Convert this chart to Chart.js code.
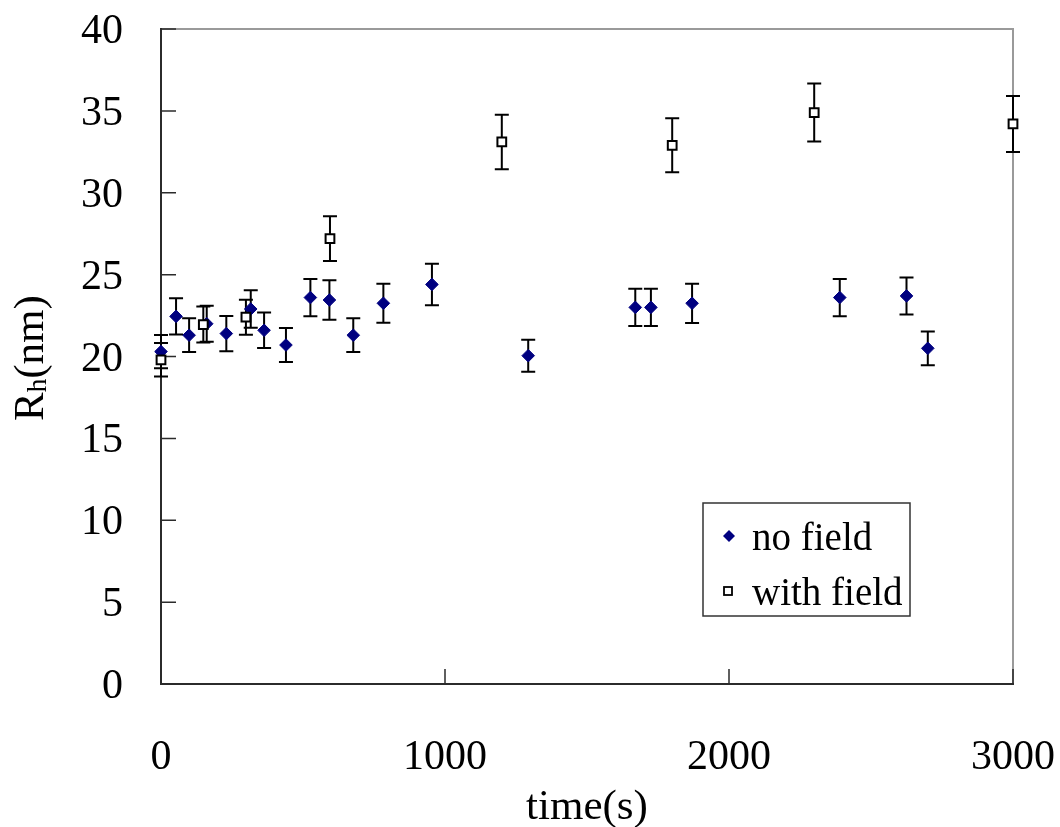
<!DOCTYPE html>
<html>
<head>
<meta charset="utf-8">
<script src="https://cdn.jsdelivr.net/npm/chart.js@4/dist/chart.umd.min.js"></script>
<style>
  html, body { margin: 0; padding: 0; background: #fff; }
  #c { display: block; }
</style>
</head>
<body>
<canvas id="c" width="1060" height="827"></canvas>
<script>
// data
const noFieldTime = [0, 53, 99, 161, 230, 316, 363, 440, 526, 593, 677, 783, 954, 1293, 1670, 1725, 1870, 2390, 2625, 2700];
const noFieldRh   = [20.3, 22.45, 21.3, 22.0, 21.4, 22.9, 21.6, 20.7, 23.6, 23.45, 21.3, 23.25, 24.4, 20.05, 23.0, 23.0, 23.25, 23.6, 23.7, 20.5];
const noFieldErr  = [1.02, 1.1, 1.03, 1.1, 1.08, 1.14, 1.08, 1.04, 1.14, 1.2, 1.03, 1.19, 1.27, 0.98, 1.14, 1.14, 1.2, 1.14, 1.13, 1.03];

const withFieldTime = [0, 149, 299, 595, 1200, 1800, 2300, 3000];
const withFieldRh   = [19.8, 21.95, 22.4, 27.2, 33.1, 32.9, 34.9, 34.2];
const withFieldErr  = [1.02, 1.1, 1.07, 1.37, 1.66, 1.65, 1.77, 1.71];

const xTicks = [0, 1000, 2000, 3000];
const yTicks = [0, 5, 10, 15, 20, 25, 30, 35, 40];

const FONT = "'Liberation Serif', 'Times New Roman', serif";

function toPoints(xs, ys) {
  return xs.map((x, i) => ({ x: x, y: ys[i] }));
}

// frame, inward ticks and error bars go under the markers
const underlay = {
  id: "underlay",
  beforeDatasetsDraw(chart) {
    const { ctx, chartArea: a, scales } = chart;
    const xs = scales.x, ys = scales.y;
    ctx.save();
    ctx.lineCap = "butt";

    // top and right border (grey)
    ctx.strokeStyle = "#9a9a9a";
    ctx.lineWidth = 2;
    ctx.beginPath();
    ctx.moveTo(a.left, a.top);
    ctx.lineTo(a.right, a.top);
    ctx.lineTo(a.right, a.bottom);
    ctx.stroke();

    // left and bottom axis (dark)
    ctx.strokeStyle = "#2b2b2b";
    ctx.beginPath();
    ctx.moveTo(a.left, a.top - 1);
    ctx.lineTo(a.left, a.bottom);
    ctx.lineTo(a.right + 1, a.bottom);
    ctx.stroke();

    // inward tick marks
    ctx.lineWidth = 1.5;
    ctx.beginPath();
    yTicks.forEach(v => {
      const py = ys.getPixelForValue(v);
      ctx.moveTo(a.left, py);
      ctx.lineTo(a.left + 15, py);
    });
    xTicks.forEach(v => {
      const px = xs.getPixelForValue(v);
      ctx.moveTo(px, a.bottom);
      ctx.lineTo(px, a.bottom - 15);
    });
    ctx.stroke();

    // error bars
    const errs = [noFieldErr, withFieldErr];
    ctx.strokeStyle = "#000";
    ctx.lineWidth = 2;
    chart.data.datasets.forEach((ds, di) => {
      ds.data.forEach((p, i) => {
        const e = errs[di][i];
        const px = xs.getPixelForValue(p.x);
        const top = ys.getPixelForValue(p.y + e);
        const bot = ys.getPixelForValue(p.y - e);
        ctx.beginPath();
        ctx.moveTo(px, top);
        ctx.lineTo(px, bot);
        ctx.moveTo(px - 7, top);
        ctx.lineTo(px + 7, top);
        ctx.moveTo(px - 7, bot);
        ctx.lineTo(px + 7, bot);
        ctx.stroke();
      });
    });
    ctx.restore();
  }
};

// axis titles and the boxed legend
const overlay = {
  id: "overlay",
  afterDraw(chart) {
    const { ctx, chartArea: a } = chart;
    ctx.save();
    ctx.fillStyle = "#000";
    ctx.textBaseline = "alphabetic";

    // x title
    ctx.font = "43px " + FONT;
    ctx.textAlign = "center";
    ctx.fillText("time(s)", (a.left + a.right) / 2, 819);

    // y title with subscript h
    ctx.translate(43, 358);
    ctx.rotate(-Math.PI / 2);
    ctx.textAlign = "left";
    const big = "43px " + FONT, small = "27px " + FONT;
    ctx.font = big;
    const wR = ctx.measureText("R").width;
    const wRest = ctx.measureText("(nm)").width;
    ctx.font = small;
    const wH = ctx.measureText("h").width;
    let u = -(wR + wH + wRest) / 2;
    ctx.font = big;
    ctx.fillText("R", u, 0);
    u += wR;
    ctx.font = small;
    ctx.fillText("h", u, 3);
    u += wH;
    ctx.font = big;
    ctx.fillText("(nm)", u, 0);
    ctx.setTransform(1, 0, 0, 1, 0, 0);

    // legend
    const lx = 703, ly = 503, lw = 207, lh = 113;
    ctx.fillStyle = "#fff";
    ctx.fillRect(lx, ly, lw, lh);
    ctx.strokeStyle = "#333";
    ctx.lineWidth = 1.5;
    ctx.strokeRect(lx, ly, lw, lh);

    const ds = chart.data.datasets;
    // diamond
    ctx.fillStyle = ds[0].backgroundColor;
    ctx.beginPath();
    ctx.moveTo(729, 530);
    ctx.lineTo(735, 536);
    ctx.lineTo(729, 542);
    ctx.lineTo(723, 536);
    ctx.closePath();
    ctx.fill();
    // square
    ctx.fillStyle = ds[1].backgroundColor;
    ctx.strokeStyle = ds[1].borderColor;
    ctx.lineWidth = 1.8;
    ctx.fillRect(724, 587, 8, 8);
    ctx.strokeRect(724, 587, 8, 8);

    ctx.fillStyle = "#000";
    ctx.font = "39px " + FONT;
    ctx.textAlign = "left";
    ctx.fillText(ds[0].label, 752, 550);
    ctx.fillText(ds[1].label, 752, 605);
    ctx.restore();
  }
};

new Chart(document.getElementById("c"), {
  type: "scatter",
  data: {
    datasets: [
      {
        label: "no field",
        data: toPoints(noFieldTime, noFieldRh),
        pointStyle: "rectRot",
        pointRadius: 6.3,
        backgroundColor: "#000080",
        borderColor: "#000080",
        borderWidth: 1,
        order: 2,
        clip: false
      },
      {
        label: "with field",
        data: toPoints(withFieldTime, withFieldRh),
        pointStyle: "rect",
        pointRadius: 6.2,
        backgroundColor: "#ffffff",
        borderColor: "#000000",
        borderWidth: 2,
        order: 1,
        clip: false
      }
    ]
  },
  options: {
    responsive: false,
    animation: false,
    events: [],
    layout: { padding: { left: 0, top: 29, right: 47, bottom: 0 } },
    plugins: {
      legend: { display: false },
      tooltip: { enabled: false }
    },
    scales: {
      x: {
        type: "linear",
        min: 0,
        max: 3000,
        afterFit: s => {
          s.height = 143;
          s.paddingLeft = 0;
          s.paddingRight = 0;
        },
        afterBuildTicks: s => { s.ticks = xTicks.map(v => ({ value: v })); },
        grid: { display: false, drawTicks: false },
        border: { display: false },
        ticks: {
          color: "#000",
          padding: 49,
          maxRotation: 0,
          font: { family: FONT, size: 42 },
          callback: v => String(v)
        }
      },
      y: {
        type: "linear",
        min: 0,
        max: 40,
        afterFit: s => {
          s.width = 161;
          s.paddingTop = 0;
          s.paddingBottom = 0;
        },
        afterBuildTicks: s => { s.ticks = yTicks.map(v => ({ value: v })); },
        grid: { display: false, drawTicks: false },
        border: { display: false },
        ticks: {
          color: "#000",
          padding: 38,
          labelOffset: 3,
          font: { family: FONT, size: 42 },
          callback: v => String(v)
        }
      }
    }
  },
  plugins: [underlay, overlay]
});
</script>
</body>
</html>
